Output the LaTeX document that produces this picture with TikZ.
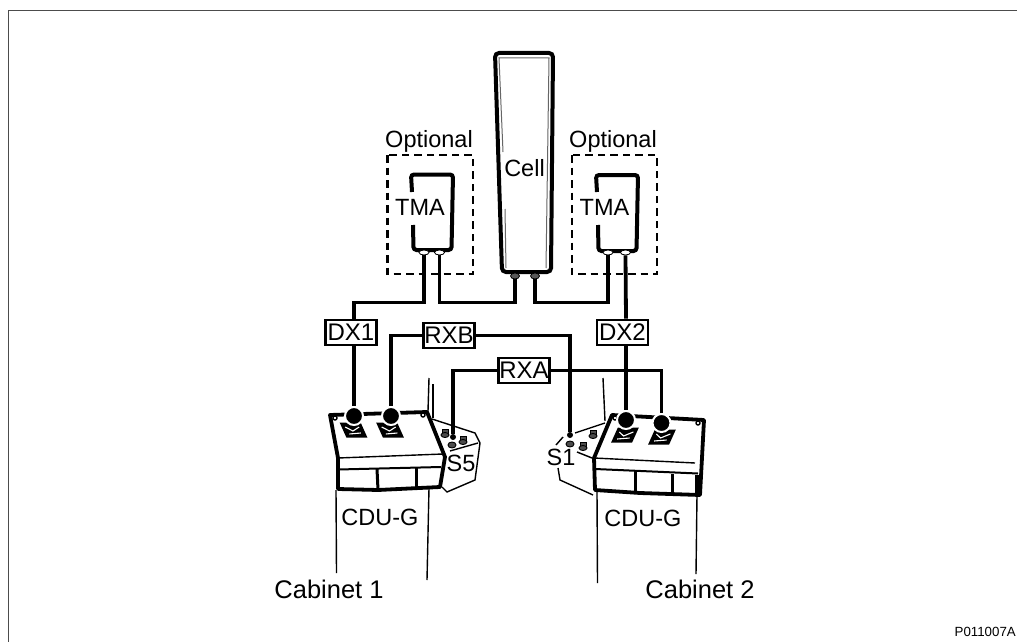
\documentclass[tikz,border=0pt]{standalone}
\usepackage{fontspec}
\setmainfont{Liberation Sans}
\usetikzlibrary{shapes,positioning}

\tikzset{
    wire/.style={line width=3.8pt, line cap=butt},
    label/.style={anchor=base, inner sep=0pt, font=\fontsize{23.5}{26}\selectfont},
    cablabel/.style={label, font=\fontsize{25.5}{28}\selectfont},
    filterbox/.style={draw, fill=white, line width=2.7pt, minimum width=51pt, minimum height=25pt, inner sep=0pt, font=\fontsize{24}{26}\selectfont},
    optbox/.style={line width=2.7pt, dash pattern=on 7.5pt off 5pt},
    body/.style={line width=4pt, rounded corners=3pt},
    unit/.style={line width=3.8pt, fill=white, line join=round},
    edge/.style={line width=1.4pt},
    port/.style={draw, ellipse, fill=white, line width=0.8pt, minimum width=10pt, minimum height=5pt, inner sep=0pt},
    cellport/.style={port, fill=black!65, minimum width=9pt, minimum height=6pt},
    bigdot/.style={circle, fill=black, draw=white, line width=2pt, minimum size=18pt, inner sep=0pt},
    smalldot/.style={circle, fill=black, minimum size=6pt, inner sep=0pt},
    lug/.style={fill=black},
    lugmark/.style={draw=white, line width=1.1pt},
    bolt/.style={draw, fill=black!70, line width=0.9pt},
}

\begin{document}
\begin{tikzpicture}[x=1pt, y=-1pt]
    \useasboundingbox (0,0) rectangle (1017,642);

    % Frame
    \draw[line width=1.3pt, black!70] (8.5,642) -- (8.5,10.5) -- (1017,10.5);

    % Cabinet sides
    \draw[edge] (336,490) -- (336.5,573);
    \draw[edge] (429,488) -- (427,580);
    \draw[edge] (597,492) -- (597.5,583);
    \draw[edge] (697,495) -- (696,574);
    \draw[edge] (429,378) -- (428,411);
    \draw[edge] (433,384) -- (433,418);
    \draw[edge] (603,378) -- (605,421);

    % Side panels
    \draw[edge] (432,419) -- (475,433) -- (480,443) -- (475,480) -- (447,492) -- (442,487);
    \draw[edge] (450,451) -- (478,443);
    \draw[edge] (605,423) -- (575,433);
    \draw[edge] (563,437) -- (556,445);
    \draw[edge] (558,468) -- (560,480) -- (593,495);
    \draw[edge] (577,452) -- (592,458);
    \foreach \bx/\by in {445/433, 463/440, 583/446, 593/434} {
        \draw[bolt] (\bx-3,\by-4) rectangle (\bx+3,\by+1);
        \draw[bolt] (\bx,\by+2) ellipse (4pt and 2.5pt);
    }
    \foreach \bx/\by in {452/445, 570/444} {
        \draw[bolt] (\bx,\by) ellipse (4pt and 3pt);
    }

    % CDU-G left
    \draw[unit] (330,415) -- (427,412) -- (445,457) -- (440,487) -- (378,490) -- (338,489) -- (338,458) -- cycle;
    \draw[edge] (338,458) -- (443,454);
    \draw[line width=2pt] (338,469.5) -- (441,467);
    \draw[line width=3pt] (377,469) -- (378,490);
    \draw[line width=3pt] (416,468) -- (416,488);
    \draw[edge, fill=white] (335,418) circle (2pt);
    \draw[edge, fill=white] (423,415) circle (2pt);

    % CDU-G right
    \draw[unit] (612,415) -- (704,420) -- (700,495) -- (640,493) -- (595,490) -- (594,458) -- cycle;
    \draw[edge] (594,458) -- (695,463);
    \draw[line width=2pt] (595,469) -- (698,473.5);
    \draw[line width=3pt] (635,471) -- (635,491);
    \draw[line width=3pt] (672,474) -- (672,493);
    \fill (695,475) rectangle (701,494);
    \draw[edge, fill=white] (615,418) circle (2pt);
    \draw[edge, fill=white] (698,423) circle (2pt);

    % Lugs
    \foreach \lx/\ly/\ls in {353.5/430/-0.45, 390/430/-0.45, 625/435/0.45, 662/437/0.45} {
        \fill[lug, shift={(\lx,\ly)}, xslant=\ls] (-10.5,-7.5) -- (10.5,-7.5) -- (10.5,7.5) -- (-10.5,7.5) -- cycle;
        \draw[lugmark, shift={(\lx,\ly)}, xslant=\ls] (-7,-3) -- (-1,1) -- (7,-3);
        \draw[lugmark, shift={(\lx,\ly)}, xslant=\ls] (-6,4) -- (6,3);
    }

    % Cell
    \draw[line width=4pt, rounded corners=4pt, fill=white] (502,272) -- (495,53) -- (553,53) -- (551,272) -- cycle;
    \draw[line width=1pt, black!60] (503,152) -- (499,58) -- (549,58) -- (546,268);
    \draw[line width=1pt, black!60] (505,209) -- (506,268);

    % TMA bodies
    \draw[body] (412,192) -- (411,174.5) -- (453,174.5) -- (451.5,250) -- (413.5,250) -- (413,225);
    \draw[body] (597,192) -- (596,175) -- (638,175) -- (636.5,251) -- (598.5,251) -- (598,225);

    % Optional boxes
    \draw[optbox] (387.5,155) rectangle (473,274);
    \draw[optbox] (572,155) rectangle (657,274);

    % Nodes
    \node[label] (cell) at (524.5,176) {Cell};
    \node[label] (tmal) at (420,215) {TMA};
    \node[label] (tmar) at (604.5,215) {TMA};
    \node[label] (optl) at (429,147) {Optional};
    \node[label] (optr) at (613,147) {Optional};
    \node[label] (cdul) at (380,525) {CDU-G};
    \node[label] (cdur) at (643,526) {CDU-G};
    \node[label] (sfive) at (461,471) {S5};
    \node[label] (sone) at (561,465) {S1};
    \node[cablabel] (cabl) at (329,598) {Cabinet 1};
    \node[cablabel] (cabr) at (700,598) {Cabinet 2};
    \node[anchor=base east, inner sep=0pt, font=\fontsize{13.3}{15}\selectfont] (code) at (1016,636.5) {P011007A};

    \node[filterbox] (dxone) at (351,332.5) {DX1};
    \node[filterbox] (dxtwo) at (622.5,332.5) {DX2};
    \node[filterbox] (rxb) at (449,335.5) {RXB};
    \node[filterbox] (rxa) at (524,370.5) {RXA};

    \node[port] (tmalin) at (424,252.5) {};
    \node[port] (tmalout) at (439.5,252.5) {};
    \node[port] (tmarin) at (608,252.5) {};
    \node[port] (tmarout) at (625.5,252.5) {};
    \node[cellport] (celll) at (515,276) {};
    \node[cellport] (cellr) at (535,276) {};

    \node[bigdot] (dotone) at (354,416) {};
    \node[bigdot] (dottwo) at (391,416) {};
    \node[bigdot] (dotthree) at (626,420) {};
    \node[bigdot] (dotfour) at (661.5,423) {};
    \node[smalldot] (sfiveport) at (453,437) {};
    \node[smalldot] (soneport) at (570,435) {};

    \coordinate (busline) at (0,302.5);

    % Wires
    \draw[wire] (celll.south) -- (celll.south |- busline) -- (tmalout.south |- busline) -- (tmalout.south);
    \draw[wire] (cellr.south) -- (cellr.south |- busline) -- (tmarin.south |- busline) -- (tmarin.south);
    \draw[wire] (tmalin.south) -- (tmalin.south |- busline) -- (dotone |- busline) -- (dotone |- dxone.north);
    \draw[wire] (dotone |- dxone.south) -- (dotone);
    \draw[wire] (tmarout.south) -- (dotthree |- dxtwo.north);
    \draw[wire] (dotthree |- dxtwo.south) -- (dotthree);
    \draw[wire] (dottwo) |- (rxb.west);
    \draw[wire] (rxb.east) -| (soneport);
    \draw[wire] (sfiveport) |- (rxa.west);
    \draw[wire] (rxa.east) -| (dotfour);
\end{tikzpicture}
\end{document}
